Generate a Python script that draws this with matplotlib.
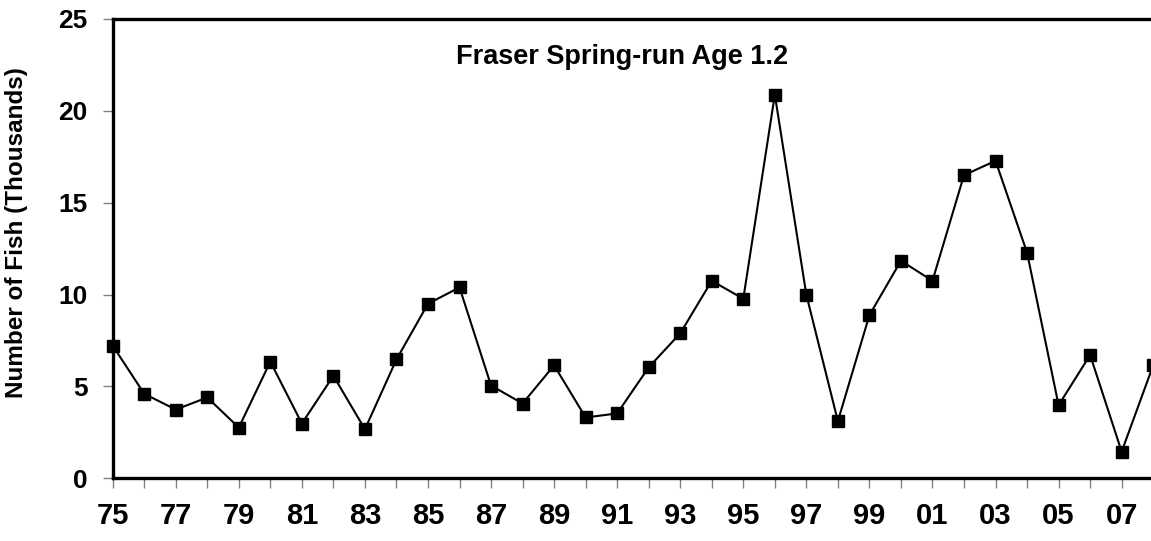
"""Fraser Spring-run Age 1.2 escapement, 1975-2008."""

import matplotlib
matplotlib.use("Agg")
import matplotlib.pyplot as plt

years = list(range(1975, 2009))
fish = [7.22, 4.60, 3.74, 4.40, 2.76, 6.35, 2.98, 5.58, 2.67, 6.47,
        9.50, 10.39, 5.05, 4.07, 6.15, 3.31, 3.53, 6.04, 7.89, 10.75,
        9.77, 20.88, 9.99, 3.11, 8.88, 11.84, 10.75, 16.50, 17.28, 12.28,
        3.98, 6.71, 1.45, 6.15]
title = "Fraser Spring-run Age 1.2"
ylabel = "Number of Fish (Thousands)"
yticks = [0, 5, 10, 15, 20, 25]


def main():
    plt.rcParams['font.family'] = ['Liberation Sans', 'DejaVu Sans']
    plt.rcParams['font.weight'] = 'bold'

    fig = plt.figure(figsize=(11.51, 5.41), dpi=100)
    ax = fig.add_axes([0.0979, 0.1159, 0.904, 0.849])

    ax.plot(years, fish, color='black', linewidth=1.5, marker='s',
            markersize=8, markerfacecolor='black', markeredgecolor='black',
            clip_on=False, zorder=3)

    ax.set_xlim(1975, 2008)
    ax.set_ylim(0, 25)

    # every year gets a tick, every other year a label
    ax.set_xticks(years)
    ax.set_xticklabels([f"{y % 100:02d}" if (y - 1975) % 2 == 0 else ""
                        for y in years])
    ax.set_yticks(yticks)
    ax.set_yticklabels([str(v) for v in yticks])

    ax.tick_params(axis='x', direction='out', length=7, width=1,
                   color='#808080', pad=10, labelsize=21)
    ax.tick_params(axis='y', direction='out', length=7, width=1,
                   color='#808080', pad=11, labelsize=19)
    for lbl in ax.get_xticklabels() + ax.get_yticklabels():
        lbl.set_fontweight('bold')

    for side in ['left', 'bottom', 'top', 'right']:
        ax.spines[side].set_linewidth(2.4)
        ax.spines[side].set_color('black')

    fig.text(17 / 1151, 1 - 233 / 541, ylabel, rotation=90, ha='center',
             va='center', fontsize=17.5, fontweight='bold')
    ax.text(0.49, 0.918, title, transform=ax.transAxes, ha='center',
            va='center', fontsize=19.5, fontweight='bold')

    fig.savefig("out.png", dpi=100)


if __name__ == '__main__':
    main()
